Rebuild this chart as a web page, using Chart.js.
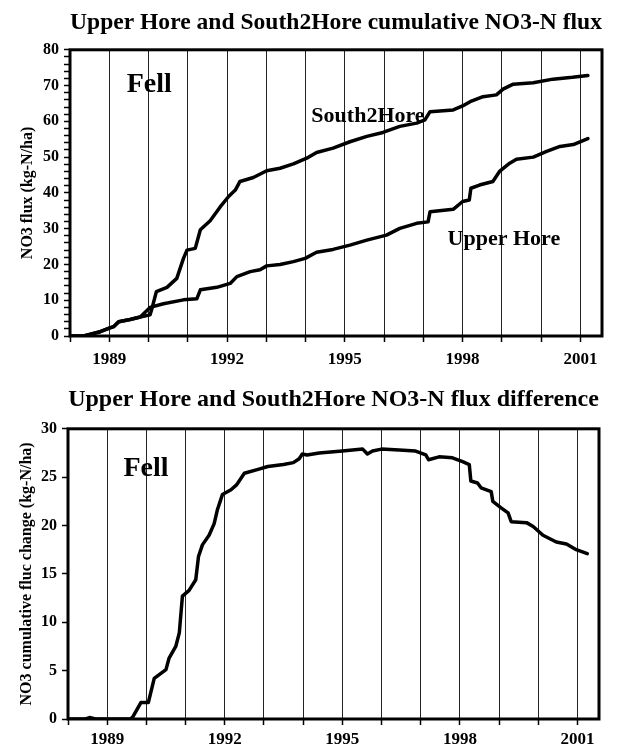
<!DOCTYPE html>
<html>
<head>
<meta charset="utf-8">
<script src="https://cdn.jsdelivr.net/npm/chart.js@4.4.1/dist/chart.umd.min.js"></script>
<style>
  body { margin: 0; background: #fff; }
  canvas { display: block; }
</style>
</head>
<body>
<canvas id="fluxChart" width="624" height="372"></canvas>
<canvas id="diffChart" width="624" height="380"></canvas>
<script>
// cumulative NO3-N flux, South2Hore catchment
const s2hYears = [1988.0, 1988.35, 1988.77, 1989.0, 1989.11, 1989.24, 1989.53, 1989.79, 1990.04, 1990.1,
  1990.2, 1990.47, 1990.72, 1990.89, 1990.98, 1991.19, 1991.32, 1991.57, 1991.82, 1992.04,
  1992.21, 1992.33, 1992.67, 1993.01, 1993.35, 1993.69, 1994.03, 1994.28, 1994.7, 1995.13,
  1995.56, 1995.97, 1996.4, 1996.83, 1997.04, 1997.17, 1997.76, 1998.0, 1998.19, 1998.52,
  1998.86, 1999.03, 1999.29, 1999.8, 2000.3, 2000.8, 2001.19];
const s2hFlux = [0, 0, 1.2, 2.2, 2.6, 4.0, 4.6, 5.3, 5.9, 8.2,
  12.4, 13.6, 16.1, 21.7, 24.0, 24.5, 29.7, 32.2, 36.0, 39.0,
  40.8, 43.2, 44.3, 46.2, 46.9, 48.1, 49.7, 51.3, 52.5, 54.3,
  55.8, 56.9, 58.6, 59.5, 60.4, 62.7, 63.2, 64.3, 65.5, 66.9,
  67.4, 69.0, 70.4, 70.8, 71.8, 72.3, 72.8];

// cumulative NO3-N flux, Upper Hore catchment
const uhYears = [1988.0, 1988.35, 1988.77, 1989.0, 1989.11, 1989.24, 1989.53, 1989.79, 1990.04, 1990.38,
  1990.89, 1991.23, 1991.32, 1991.74, 1992.08, 1992.25, 1992.59, 1992.84, 1993.01, 1993.35,
  1993.69, 1993.99, 1994.28, 1994.7, 1995.13, 1995.56, 1996.06, 1996.4, 1996.83, 1997.12,
  1997.17, 1997.76, 1998.0, 1998.17, 1998.21, 1998.43, 1998.77, 1998.94, 1999.2, 1999.37,
  1999.8, 2000.14, 2000.48, 2000.82, 2001.19];
const uhFlux = [0, 0, 1.2, 2.2, 2.6, 4.0, 4.6, 5.3, 8.0, 9.0,
  10.1, 10.4, 12.9, 13.6, 14.7, 16.6, 18.0, 18.5, 19.6, 20.0,
  20.8, 21.7, 23.4, 24.2, 25.4, 26.8, 28.2, 30.1, 31.5, 31.9,
  34.7, 35.4, 37.6, 38.0, 41.3, 42.2, 43.2, 46.0, 48.3, 49.4,
  50.0, 51.6, 53.0, 53.5, 55.2];

// flux difference (South2Hore minus Upper Hore)
const diffYears = [1988.0, 1988.45, 1988.55, 1988.7, 1989.6, 1989.65, 1989.86, 1990.05, 1990.2, 1990.5,
  1990.58, 1990.75, 1990.84, 1990.92, 1991.09, 1991.26, 1991.33, 1991.43, 1991.6, 1991.73,
  1991.81, 1991.94, 1992.16, 1992.3, 1992.5, 1992.85, 1993.1, 1993.5, 1993.75, 1993.9,
  1993.98, 1994.1, 1994.41, 1995.0, 1995.52, 1995.64, 1995.77, 1996.0, 1996.45, 1996.87,
  1997.13, 1997.2, 1997.47, 1997.81, 1998.07, 1998.24, 1998.28, 1998.45, 1998.54, 1998.8,
  1998.84, 1999.06, 1999.23, 1999.31, 1999.7, 1999.87, 2000.12, 2000.46, 2000.72, 2000.97,
  2001.25];
const diffFlux = [0, 0, 0.15, 0, 0, 0.2, 1.7, 1.7, 4.2, 5.1,
  6.3, 7.5, 8.9, 12.7, 13.3, 14.4, 16.8, 18.0, 19.0, 20.2,
  21.6, 23.2, 23.7, 24.2, 25.4, 25.8, 26.1, 26.3, 26.5, 26.9,
  27.4, 27.3, 27.5, 27.7, 27.9, 27.4, 27.7, 27.9, 27.8, 27.7,
  27.3, 26.8, 27.1, 27.0, 26.6, 26.3, 24.6, 24.4, 23.9, 23.5,
  22.5, 21.8, 21.3, 20.4, 20.3, 19.9, 19.0, 18.3, 18.1, 17.5,
  17.1];

const yearLabels = [1989, 1992, 1995, 1998, 2001];

// text written inside the plot areas
const fluxNotes = [
  { text: 'Fell', x: 1990.02, y: 70.2, size: 28 },
  { text: 'South2Hore', x: 1995.59, y: 61.5, size: 22 },
  { text: 'Upper Hore', x: 1999.05, y: 26.9, size: 22 }
];
const diffNotes = [
  { text: 'Fell', x: 1989.99, y: 25.9, size: 28 }
];

const SERIF = '"Liberation Serif", "Times New Roman", serif';

function toPoints(xs, ys) {
  return xs.map((x, i) => ({ x: x, y: ys[i] }));
}

const framePlugin = {
  id: 'frame',
  afterDatasetsDraw(chart) {
    const { ctx, chartArea: a } = chart;
    ctx.save();
    ctx.strokeStyle = '#000';
    ctx.lineWidth = 3;
    ctx.strokeRect(a.left, a.top, a.right - a.left, a.bottom - a.top);
    ctx.restore();
  }
};

const notesPlugin = {
  id: 'notes',
  afterDraw(chart, args, opts) {
    const ctx = chart.ctx;
    ctx.save();
    ctx.fillStyle = '#000';
    ctx.textAlign = 'center';
    ctx.textBaseline = 'middle';
    (opts.items || []).forEach((n) => {
      ctx.font = 'bold ' + n.size + 'px ' + SERIF;
      ctx.fillText(n.text, chart.scales.x.getPixelForValue(n.x), chart.scales.y.getPixelForValue(n.y));
    });
    ctx.restore();
  }
};

function lineSet(points) {
  return {
    data: points,
    borderColor: '#000',
    borderWidth: 3.5,
    pointRadius: 0,
    tension: 0,
    borderJoinStyle: 'round',
    borderCapStyle: 'round'
  };
}

function makeChart(canvas, cfg) {
  return new Chart(canvas, {
    type: 'line',
    data: { datasets: cfg.datasets },
    options: {
      responsive: false,
      animation: false,
      layout: { padding: { left: 0, right: cfg.padRight, top: 0, bottom: 0 } },
      plugins: {
        legend: { display: false },
        tooltip: { enabled: false },
        title: {
          display: true,
          text: cfg.title,
          fullSize: false,
          color: '#000',
          font: { family: SERIF, size: 24, weight: 'bold', lineHeight: 1.2 },
          padding: cfg.titlePad
        },
        notes: { items: cfg.notes }
      },
      scales: {
        x: {
          type: 'linear',
          min: 1988,
          max: 2001.55,
          border: { display: false },
          grid: { color: '#222', lineWidth: 1, tickLength: 6, tickColor: '#000', tickWidth: 1.5 },
          ticks: {
            stepSize: 1,
            includeBounds: false,
            autoSkip: false,
            maxRotation: 0,
            padding: cfg.xPad,
            color: '#000',
            font: { family: SERIF, size: 17, weight: 'bold' },
            callback: (v) => yearLabels.includes(Math.round(v)) ? String(Math.round(v)) : ''
          },
          afterFit: (s) => { s.height = cfg.xHeight; }
        },
        y: {
          min: 0,
          max: cfg.yMax,
          border: { display: false },
          grid: { drawOnChartArea: false, tickLength: 6, tickColor: '#000', tickWidth: 1.5 },
          ticks: {
            stepSize: cfg.yStep,
            autoSkip: false,
            padding: 5,
            color: '#000',
            font: { family: SERIF, size: 16, weight: 'bold' },
            callback: (v) => v % cfg.yLabelEvery === 0 ? String(v) : ''
          },
          title: {
            display: true,
            text: cfg.yTitle,
            color: '#000',
            font: { family: SERIF, size: 16, weight: 'bold', lineHeight: 1.2 },
            padding: { top: cfg.yTitleTop, bottom: 0 }
          },
          afterFit: (s) => { s.width = cfg.yWidth; }
        }
      }
    },
    plugins: [framePlugin, notesPlugin]
  });
}

makeChart(document.getElementById('fluxChart'), {
  title: 'Upper Hore and South2Hore cumulative NO3-N flux',
  titlePad: { top: 8, bottom: 13 },
  datasets: [lineSet(toPoints(s2hYears, s2hFlux)), lineSet(toPoints(uhYears, uhFlux))],
  notes: fluxNotes,
  padRight: 22,
  xHeight: 36,
  xPad: 7,
  yMax: 80,
  yStep: 2,
  yLabelEvery: 10,
  yWidth: 70,
  yTitle: 'NO3 flux (kg-N/ha)',
  yTitleTop: 18
});

makeChart(document.getElementById('diffChart'), {
  title: 'Upper Hore and South2Hore NO3-N flux difference',
  titlePad: { top: 13, bottom: 15 },
  datasets: [lineSet(toPoints(diffYears, diffFlux))],
  notes: diffNotes,
  padRight: 25,
  xHeight: 33,
  xPad: 4,
  yMax: 30,
  yStep: 5,
  yLabelEvery: 5,
  yWidth: 68,
  yTitle: 'NO3 cumulative fluc change (kg-N/ha)',
  yTitleTop: 17
});
</script>
</body>
</html>
